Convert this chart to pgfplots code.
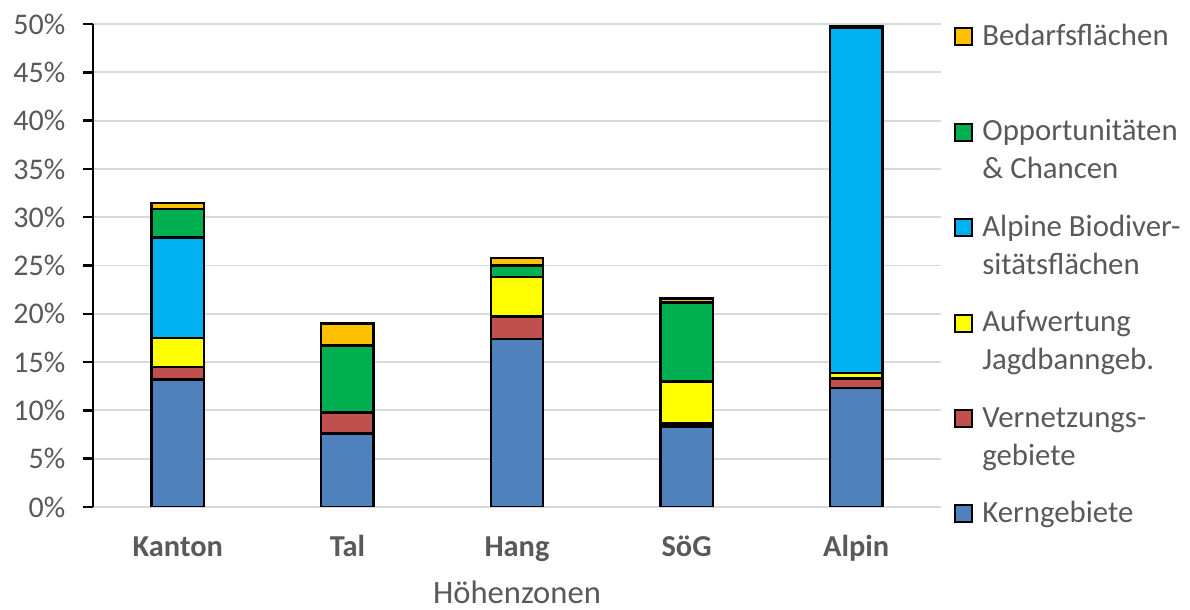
\documentclass[border=0pt]{standalone}
\usepackage{pgfplots}
\pgfplotsset{compat=1.18}
\usepackage{fontspec}
\setmainfont{Carlito}
\definecolor{txt}{HTML}{595959}
\definecolor{gridc}{HTML}{D9D9D9}
\definecolor{cKern}{HTML}{4F81BD}
\definecolor{cVern}{HTML}{C0504D}
\definecolor{cAufw}{HTML}{FFFF00}
\definecolor{cAlp}{HTML}{00B0F0}
\definecolor{cOpp}{HTML}{00B050}
\definecolor{cBed}{HTML}{FFC000}
\begin{document}
\begin{tikzpicture}
\useasboundingbox (-46.5pt,-51.5pt) rectangle (548.5pt,253.5pt);
\begin{axis}[
  at={(0,0)}, anchor=south west,
  scale only axis, width=424pt, height=241.5pt,
  xmin=-0.5, xmax=4.5, ymin=0, ymax=50,
  ybar stacked, bar width=0.31,
  every axis plot post/.append style={
    draw=black, line width=1.2pt,
    legend image code/.code={\draw[##1, line width=1pt] (0pt,0pt) rectangle (8.5pt,8.5pt);}},
  xtick={0,1,2,3,4}, xticklabels={Kanton,Tal,Hang,SöG,Alpin},
  ytick={0,5,...,50},
  yticklabel={\pgfmathprintnumber{\tick}\%},
  /pgf/number format/assume math mode=true,
  axis lines*=left,
  x axis line style={draw=none},
  y axis line style={black, line width=1.2pt},
  ymajorgrids, grid style={draw=gridc, line width=0.9pt},
  xtick style={draw=none},
  ytick style={black, line width=1.2pt},
  tick align=outside, major tick length=5pt,
  tick label style={font=\fontsize{15}{18}\selectfont, text=txt},
  yticklabel style={xshift=-5.3pt},
  xticklabel style={font=\bfseries\fontsize{15.2}{18}\selectfont, anchor=base, yshift=-20pt},
  xlabel={Höhenzonen},
  xlabel style={at={(axis description cs:0.5,0)}, anchor=base, yshift=-48.5pt,
    font=\fontsize{16.3}{19}\selectfont, text=txt},
  reverse legend,
  legend cell align=left,
  legend style={at={(1,1)}, anchor=north west, xshift=6.5pt, yshift=2.8pt,
    draw=none, fill=none, inner sep=0pt, row sep=32.9pt, column sep=2.5pt,
    font=\fontsize{15.4}{19}\selectfont, text=txt,
    cells={anchor=base west}, nodes={inner ysep=0pt, inner xsep=2pt}},
]
\addplot[fill=cKern] coordinates {(0,13.2) (1,7.6) (2,17.4) (3,8.35) (4,12.3)};
\addlegendentry{\begin{tabular}[t]{@{}l@{}}Kerngebiete\end{tabular}}
\addplot[fill=cVern] coordinates {(0,1.3) (1,2.2) (2,2.3) (3,0.3) (4,1.0)};
\addlegendentry{\begin{tabular}[t]{@{}l@{}}Vernetzungs-\\gebiete\end{tabular}}
\addplot[fill=cAufw] coordinates {(0,3.0) (1,0) (2,4.1) (3,4.35) (4,0.6)};
\addlegendentry{\begin{tabular}[t]{@{}l@{}}Aufwertung\\Jagdbanngeb.\end{tabular}}
\addplot[fill=cAlp] coordinates {(0,10.4) (1,0) (2,0) (3,0) (4,35.7)};
\addlegendentry{\begin{tabular}[t]{@{}l@{}}Alpine Biodiver-\\sitätsflächen\end{tabular}}
\addplot[fill=cOpp] coordinates {(0,2.95) (1,6.9) (2,1.2) (3,8.15) (4,0)};
\addlegendentry{\begin{tabular}[t]{@{}l@{}}Opportunitäten\\\& Chancen\end{tabular}}
\addplot[fill=cBed] coordinates {(0,0.6) (1,2.3) (2,0.8) (3,0.45) (4,0.2)};
\addlegendentry{\begin{tabular}[t]{@{}l@{}}Bedarfsflächen\end{tabular}}
\end{axis}
\end{tikzpicture}
\end{document}
